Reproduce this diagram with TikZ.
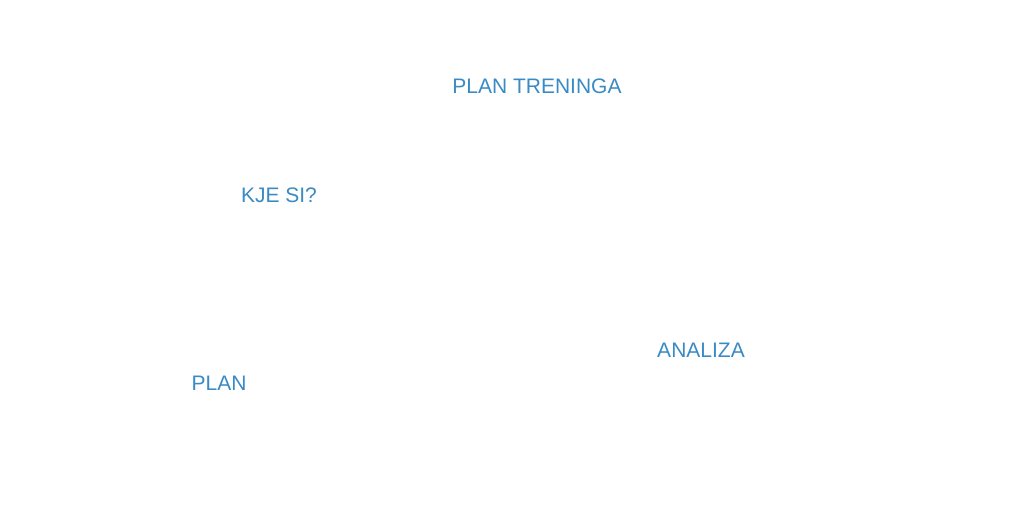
\documentclass[tikz,border=0pt]{standalone}
\usepackage{fontspec}
\setmainfont{Liberation Sans}
\definecolor{hand}{HTML}{3A8AC4}
\begin{document}
\begin{tikzpicture}[x=1pt,y=1pt,lbl/.style={text=hand,font=\fontsize{21}{24}\selectfont,inner sep=0pt}]
\useasboundingbox (0,0) rectangle (1024,530);
\node[lbl] (plantr) at (537,444) {PLAN TRENINGA};
\node[lbl] (kje) at (279,335) {KJE SI?};
\node[lbl] (analiza) at (701,180) {ANALIZA};
\node[lbl] (plan) at (219,147) {PLAN};
\end{tikzpicture}
\end{document}
